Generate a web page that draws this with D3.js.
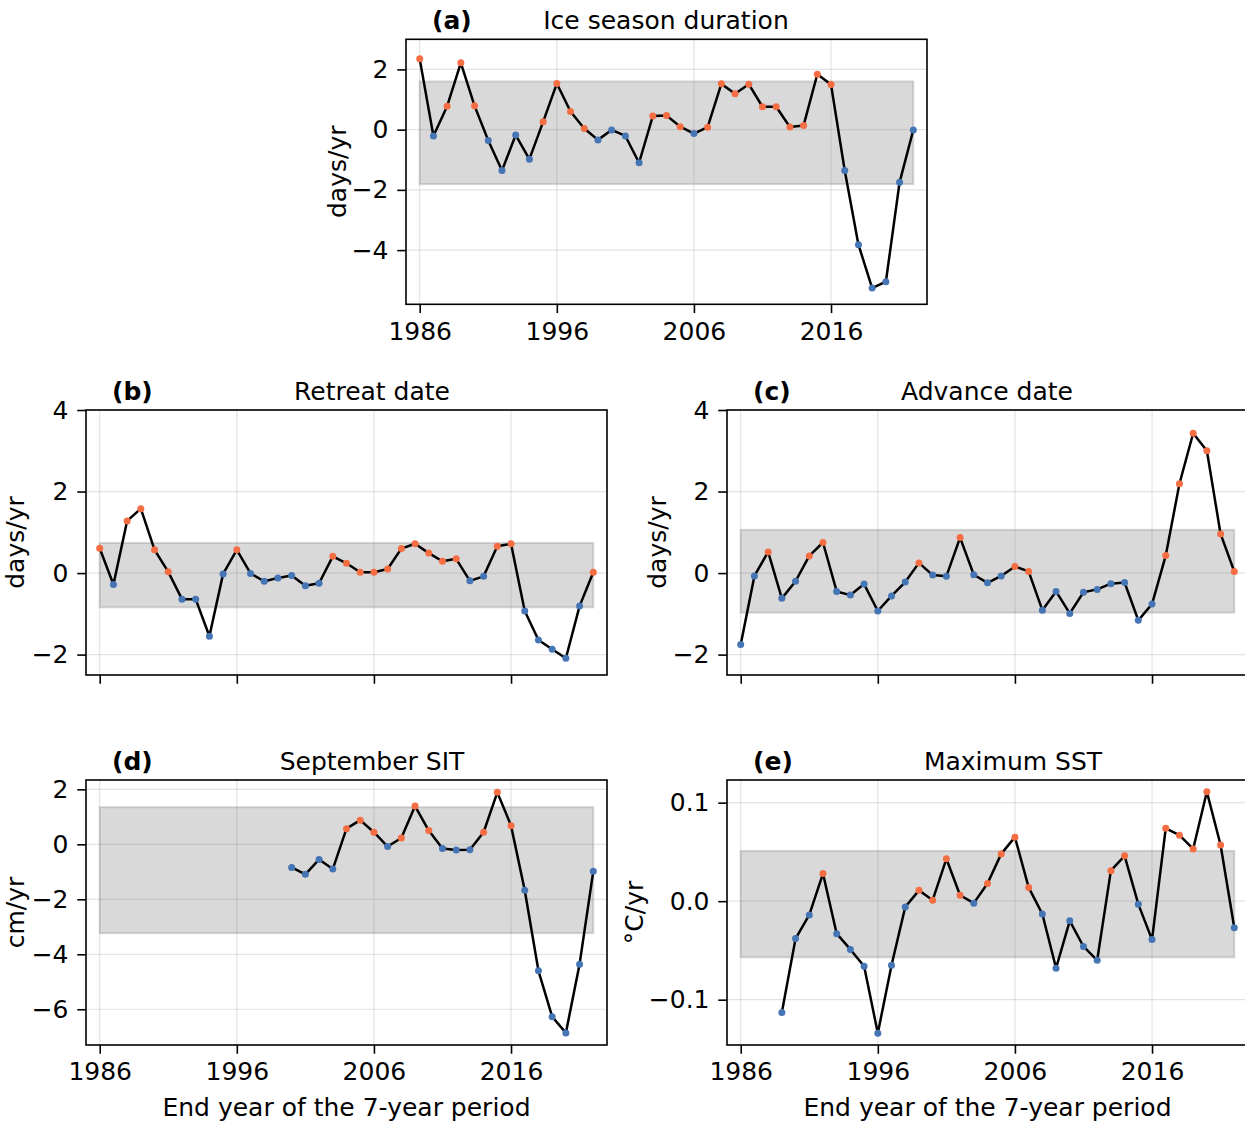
<!DOCTYPE html>
<html>
<head>
<meta charset="utf-8">
<script src="https://cdn.jsdelivr.net/npm/d3@7"></script>
<style>
  html, body { margin: 0; padding: 0; background: #fff; }
  svg { display: block; font-family: "DejaVu Sans", sans-serif; }
</style>
</head>
<body>
<svg id="chart" width="1245" height="1124"></svg>
<script>
// ---- Data ----
const years = d3.range(1986, 2023);
const xTicks = [1986, 1996, 2006, 2016];

const iceDuration = [2.35, -0.21, 0.78, 2.22, 0.79, -0.36, -1.36, -0.18, -0.98, 0.26,
  1.53, 0.60, 0.04, -0.34, -0.01, -0.21, -1.10, 0.45, 0.47, 0.10,
  -0.13, 0.08, 1.52, 1.19, 1.51, 0.76, 0.76, 0.09, 0.14, 1.84,
  1.50, -1.36, -3.82, -5.26, -5.05, -1.75, -0.01];

const retreatDate = [0.61, -0.28, 1.28, 1.58, 0.57, 0.03, -0.64, -0.64, -1.55, -0.02,
  0.57, -0.01, -0.20, -0.12, -0.06, -0.31, -0.25, 0.41, 0.24, 0.02,
  0.02, 0.10, 0.60, 0.72, 0.49, 0.29, 0.35, -0.19, -0.08, 0.66,
  0.72, -0.93, -1.64, -1.87, -2.09, -0.81, 0.02];

const advanceDate = [-1.75, -0.07, 0.52, -0.62, -0.20, 0.42, 0.75, -0.45, -0.54, -0.27,
  -0.93, -0.56, -0.22, 0.25, -0.05, -0.08, 0.87, -0.04, -0.24, -0.07,
  0.16, 0.04, -0.91, -0.45, -0.99, -0.47, -0.40, -0.26, -0.23, -1.16,
  -0.76, 0.43, 2.19, 3.43, 3.00, 0.96, 0.04];

const septSIT = [null, null, null, null, null, null, null, null, null, null,
  null, null, null, null, -0.84, -1.09, -0.55, -0.90, 0.57, 0.88,
  0.44, -0.08, 0.23, 1.39, 0.50, -0.15, -0.21, -0.20, 0.44, 1.89,
  0.68, -1.67, -4.60, -6.27, -6.86, -4.36, -0.98];

const maxSST = [null, null, null, -0.113, -0.038, -0.014, 0.028, -0.033, -0.049, -0.066,
  -0.134, -0.065, -0.006, 0.011, 0.001, 0.043, 0.006, -0.002, 0.018, 0.048,
  0.065, 0.014, -0.013, -0.068, -0.020, -0.046, -0.060, 0.031, 0.046, -0.003,
  -0.039, 0.074, 0.067, 0.053, 0.111, 0.057, -0.027];

const panelTags = ["(a)", "(b)", "(c)", "(d)", "(e)"];
const panelTitles = ["Ice season duration", "Retreat date", "Advance date", "September SIT", "Maximum SST"];
const yLabels = ["days/yr", "days/yr", "days/yr", "cm/yr", "°C/yr"];
const yTicks = [[-4, -2, 0, 2], [-2, 0, 2, 4], [-2, 0, 2, 4], [-6, -4, -2, 0, 2], [-0.1, 0.0, 0.1]];
const yDomains = [[-5.8, 3.0], [-2.5, 4.0], [-2.5, 4.0], [-7.3, 2.34], [-0.146, 0.123]];
const bands = [[-1.81, 1.60], [-0.84, 0.74], [-0.97, 1.06], [-3.23, 1.35], [-0.057, 0.051]];
const seriesList = [iceDuration, retreatDate, advanceDate, septSIT, maxSST];

// ---- Layout ----
const svg = d3.select("#chart");
const FS = 25;
const W = 521, H = 265;
const panels = [
  { left: 406, top: 39.3, xLabels: true, xTitle: false, titleOff: 260, ylabOff: 60 },
  { left: 86, top: 410, xLabels: false, xTitle: false, titleOff: 286, ylabOff: 62 },
  { left: 727, top: 410, xLabels: false, xTitle: false, titleOff: 260, ylabOff: 61 },
  { left: 86, top: 780, xLabels: true, xTitle: true, titleOff: 286, ylabOff: 62 },
  { left: 727, top: 780, xLabels: true, xTitle: true, titleOff: 286, ylabOff: 84 }
];
const orange = "#f46d43", blue = "#4575b4";
const minus = s => s.replace("-", "\u2212");

panels.forEach((p, i) => {
  const g = svg.append("g").attr("transform", `translate(${p.left},${p.top})`);
  const x = d3.scaleLinear().domain([1985, 2023]).range([0, W]);
  const y = d3.scaleLinear().domain(yDomains[i]).range([H, 0]);
  const vals = seriesList[i];
  const data = years.map((yr, k) => ({ yr, v: vals[k] })).filter(d => d.v !== null);

  // grid
  g.append("g").selectAll("line.gx").data(xTicks).join("line")
    .attr("x1", d => x(d)).attr("x2", d => x(d)).attr("y1", 0).attr("y2", H)
    .attr("stroke", "#b0b0b0").attr("stroke-opacity", 0.35).attr("stroke-width", 1.2);
  g.append("g").selectAll("line.gy").data(yTicks[i]).join("line")
    .attr("x1", 0).attr("x2", W).attr("y1", d => y(d)).attr("y2", d => y(d))
    .attr("stroke", "#b0b0b0").attr("stroke-opacity", 0.35).attr("stroke-width", 1.2);

  // band
  g.append("rect")
    .attr("x", x(1986)).attr("width", x(2022) - x(1986))
    .attr("y", y(bands[i][1])).attr("height", y(bands[i][0]) - y(bands[i][1]))
    .attr("fill", "gray").attr("fill-opacity", 0.3)
    .attr("stroke", "gray").attr("stroke-opacity", 0.3).attr("stroke-width", 2);

  // line
  g.append("path").datum(data)
    .attr("d", d3.line().x(d => x(d.yr)).y(d => y(d.v)))
    .attr("fill", "none").attr("stroke", "#000").attr("stroke-width", 2.5)
    .attr("stroke-linejoin", "round");

  // markers
  g.append("g").selectAll("circle").data(data).join("circle")
    .attr("cx", d => x(d.yr)).attr("cy", d => y(d.v)).attr("r", 3.5)
    .attr("fill", d => d.v > 0 ? orange : blue);

  // axes
  const xAxis = d3.axisBottom(x).tickValues(xTicks).tickSize(8.75).tickPadding(8.75)
    .tickFormat(p.xLabels ? d3.format("d") : () => "");
  const gx = g.append("g").attr("transform", `translate(0,${H})`).call(xAxis);
  const fmt = i === 4 ? d3.format(".1f") : d3.format("d");
  const yAxis = d3.axisLeft(y).tickValues(yTicks[i]).tickSize(8.75).tickPadding(8.75)
    .tickFormat(d => minus(fmt(d)));
  const gy = g.append("g").call(yAxis);
  [gx, gy].forEach(a => {
    a.select(".domain").remove();
    a.selectAll(".tick line").attr("stroke", "#000").attr("stroke-width", 1.6);
    a.selectAll(".tick text").attr("font-size", FS).attr("fill", "#000")
      .attr("font-family", "DejaVu Sans");
  });

  // frame
  g.append("rect").attr("x", 0).attr("y", 0).attr("width", W).attr("height", H)
    .attr("fill", "none").attr("stroke", "#000").attr("stroke-width", 1.6);

  // titles
  g.append("text").attr("x", 26).attr("y", -10).attr("font-size", FS)
    .attr("font-weight", "bold").text(panelTags[i]);
  g.append("text").attr("x", p.titleOff).attr("y", -10).attr("font-size", FS)
    .attr("text-anchor", "middle").text(panelTitles[i]);

  // y label
  g.append("text")
    .attr("transform", `translate(${-p.ylabOff},${H / 2}) rotate(-90)`)
    .attr("text-anchor", "middle").attr("font-size", FS).text(yLabels[i]);

  // x label
  if (p.xTitle) {
    g.append("text").attr("x", W / 2).attr("y", H + 71).attr("text-anchor", "middle")
      .attr("font-size", FS).text("End year of the 7-year period");
  }
});
</script>
</body>
</html>
